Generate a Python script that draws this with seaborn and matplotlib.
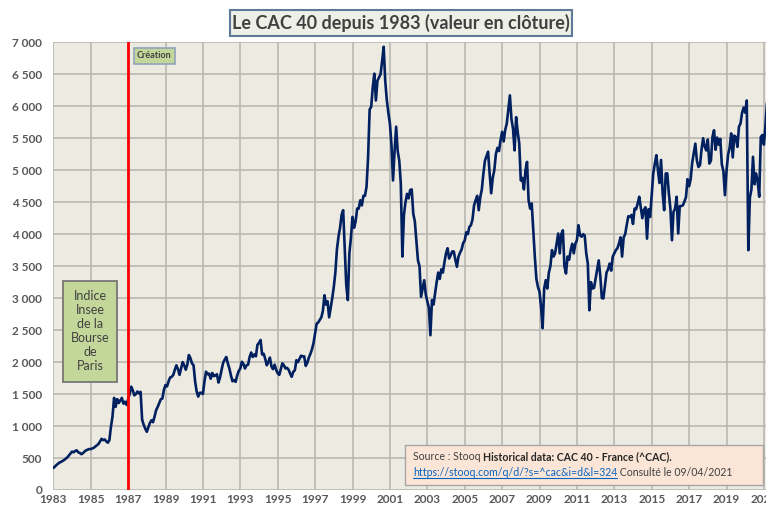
import numpy as np
import pandas as pd
import seaborn as sns
import matplotlib.pyplot as plt
from matplotlib.patches import Rectangle
from matplotlib.lines import Line2D

# CAC 40 monthly values (Jan..Dec)
cac_1983_1989 = [
    345, 365, 390, 410, 430, 440, 455, 470, 490, 510, 540, 570,
    600, 590, 610, 620, 590, 580, 560, 575, 600, 620, 630, 640,
    640, 650, 660, 680, 700, 720, 760, 800, 780, 790, 760, 740,
    780, 990, 1150, 1440, 1300, 1420, 1360, 1400, 1440, 1350, 1380, 1330,
    1420, 1500, 1615, 1560, 1480, 1500, 1540, 1510, 1535, 1100, 1020, 960,
    910, 980, 1050, 1090, 1060, 1150, 1250, 1300, 1360, 1420, 1430, 1570,
    1640, 1620, 1700, 1760, 1770, 1800, 1880, 1950, 1890, 1800, 1900, 2000,
]
cac_1990s = [
    1950, 1880, 1960, 2110, 2060, 1980, 1950, 1700, 1540, 1460, 1520, 1520,
    1500, 1700, 1850, 1810, 1820, 1740, 1830, 1780, 1790, 1810, 1680, 1760,
    1880, 1990, 2040, 2080, 1980, 1900, 1790, 1700, 1720, 1690, 1790, 1860,
    1900, 2005, 1970, 1900, 1950, 1960, 2080, 2150, 2080, 2120, 2090, 2270,
    2300, 2345, 2120, 2130, 2050, 1950, 2000, 2070, 1930, 1890, 1960, 1880,
    1825, 1800, 1890, 1980, 1950, 1900, 1910, 1880, 1820, 1770, 1850, 1870,
    2030, 2000, 2050, 2100, 2090, 2090, 1940, 1990, 2070, 2130, 2200, 2300,
    2450, 2600, 2620, 2660, 2700, 2800, 3045, 2900, 2950, 2700, 2850, 2999,
    3175, 3400, 3760, 3960, 4100, 4300, 4375, 3800, 3200, 2970, 3700, 3950,
    4270, 4100, 4200, 4400, 4400, 4530, 4450, 4600, 4600, 4740, 5200, 5950,
]
cac_2000s = [
    5990, 6300, 6510, 6090, 6400, 6450, 6500, 6700, 6930, 6400, 6100, 5900,
    5730, 5400, 4840, 5300, 5680, 5300, 5150, 4790, 3650, 4300, 4500, 4630,
    4560, 4690, 4700, 4320, 4200, 3900, 3590, 3500, 3020, 3150, 3280, 3060,
    2950, 2850, 2420, 2970, 2900, 3080, 3250, 3400, 3300, 3450, 3400, 3560,
    3700, 3780, 3620, 3670, 3730, 3730, 3600, 3490, 3650, 3710, 3760, 3860,
    3900, 4030, 4000, 4115, 4140, 4230, 4450, 4530, 4600, 4375, 4580, 4700,
    4950, 5150, 5220, 5290, 4950, 4640, 4880, 5000, 5250, 5350, 5300, 5470,
    5600, 5450, 5630, 5730, 5950, 6170, 5800, 5650, 5310, 5830, 5600, 5420,
    4840, 4880, 4700, 5000, 5130, 4530, 4400, 4480, 4060, 3650, 3300, 3175,
    3100, 2865, 2530, 3150, 3280, 3150, 3400, 3500, 3750, 3650, 3700, 3855,
]
cac_2010s = [
    4010, 3700, 4000, 4060, 3500, 3385, 3650, 3600, 3750, 3850, 3700, 3850,
    3905, 4140, 3980, 3960, 4000, 3980, 3700, 3540, 2810, 3250, 3150, 3160,
    3300, 3450, 3590, 3350, 3000, 2995, 3200, 3400, 3450, 3540, 3430, 3650,
    3700, 3750, 3780, 3855, 3950, 3650, 3950, 4000, 4150, 4280, 4270, 4300,
    4160, 4400, 4390, 4480, 4585, 4420, 4250, 4380, 4420, 3930, 4390, 4270,
    4600, 4950, 5100, 5235, 5000, 4800, 5160, 4650, 4375, 4950, 4950, 4640,
    4400, 3905, 4350, 4400, 4585, 4010, 4440, 4440, 4450, 4510, 4580, 4860,
    4750, 4860, 5120, 5270, 5415, 5150, 5050, 5080, 5330, 5500, 5370, 5310,
    5480, 5105, 5150, 5520, 5625, 5320, 5510, 5400, 5490, 5090, 4990, 4610,
    4990, 5240, 5350, 5575, 5200, 5540, 5520, 5365, 5680, 5730, 5900, 5980,
]
cac_2020s = [
    5900, 6090, 3750, 4570, 4700, 5210, 4780, 4950, 4830, 4585, 5520, 5550,
    5400, 5700, 6060, 6160,
]

values = cac_1983_1989 + cac_1990s + cac_2000s + cac_2010s + cac_2020s
dates = pd.date_range("1983-01-01", periods=len(values), freq="MS")
df = pd.DataFrame({"annee": dates.year + (dates.month - 1) / 12, "cac": values})

year_ticks = list(range(1983, 2022, 2))
y_ticks = list(range(0, 7001, 500))

W, H = 766, 509
sns.set_style("whitegrid")
plt.rcParams["font.family"] = ["Lato", "DejaVu Sans"]

fig = plt.figure(figsize=(W / 100, H / 100), dpi=100)
ax = fig.add_axes([53.3 / W, (H - 490) / H, (W - 53.3) / W, (490 - 42.3) / H])
ax.set_facecolor("#EDEAE1")

sns.lineplot(data=df, x="annee", y="cac", ax=ax, color="#002060", lw=1.9)
ax.axvline(1987, color="#FF0000", lw=2, zorder=4)

ax.set_xlim(1983, 1983 + (W - 53.3) / 18.7)
ax.set_ylim(0, 7000)
ax.set_xticks(year_ticks)
ax.set_yticks(y_ticks)
ax.set_yticklabels([f"{v:,}".replace(",", " ") for v in y_ticks])
ax.grid(True, color="#BAB8B2", lw=1.2)
ax.set_axisbelow(True)
for s in ax.spines.values():
    s.set_visible(False)
ax.tick_params(length=0, labelsize=8.5, labelcolor="#595959")
ax.tick_params(axis="x", pad=3)
ax.tick_params(axis="y", pad=8)
for lab in ax.get_xticklabels() + ax.get_yticklabels():
    lab.set_fontweight("bold")
ax.set_xlabel("")
ax.set_ylabel("")


def box(x0, y0, x1, y1, face, edge, lw=1.0):
    fig.add_artist(Rectangle((x0 / W, 1 - y1 / H), (x1 - x0) / W, (y1 - y0) / H,
                             transform=fig.transFigure, facecolor=face,
                             edgecolor=edge, lw=lw, zorder=5))


# title
box(230, 10, 572, 36, "#EEEFE7", "#5F7A99", 1.5)
fig.text(401 / W, 1 - 23 / H, "Le CAC 40 depuis 1983 (valeur en clôture)",
         ha="center", va="center", fontsize=13, fontweight="bold",
         color="#404040", zorder=6)

# Création
box(133.5, 47.5, 174.5, 63.5, "#C4D79B", "#8FA5BA", 1.2)
fig.text(154 / W, 1 - 55.5 / H, "Création", ha="center", va="center",
         fontsize=6.5, fontweight="bold", color="#404040", zorder=6)

# Indice Insee
box(63, 281, 117, 382, "#C4D79B", "#6F6F6F", 1.2)
fig.text(90 / W, 1 - 331.5 / H, "Indice\nInsee\nde la\nBourse\nde\nParis",
         ha="center", va="center", fontsize=9, linespacing=1.2,
         color="#404040", zorder=6)

# source
box(405, 445, 763, 485, "#FBE5D6", "#A6A6A6", 1.0)
fs = 7.6
t1 = fig.text(413 / W, 1 - 460 / H, "Source : Stooq ", fontsize=fs,
              color="#404040", zorder=6, va="baseline")
t3 = fig.text(413 / W, 1 - 476 / H, "https://stooq.com/q/d/?s=^cac&i=d&l=324",
              fontsize=fs, color="#0563C1", zorder=6, va="baseline")
fig.canvas.draw()
inv = fig.transFigure.inverted()
bb1 = t1.get_window_extent().transformed(inv)
bb3 = t3.get_window_extent().transformed(inv)
fig.text(bb1.x1, 1 - 460 / H, "Historical data: CAC 40 - France (^CAC).",
         fontsize=fs, fontweight="bold", color="#262626", zorder=6,
         va="baseline")
fig.text(bb3.x1, 1 - 476 / H, " Consulté le 09/04/2021", fontsize=fs,
         color="#404040", zorder=6, va="baseline")
uy = 1 - 478 / H
fig.add_artist(Line2D([bb3.x0, bb3.x1], [uy, uy], transform=fig.transFigure,
                      color="#0563C1", lw=0.8, zorder=6))

fig.savefig("out.png", dpi=100)
